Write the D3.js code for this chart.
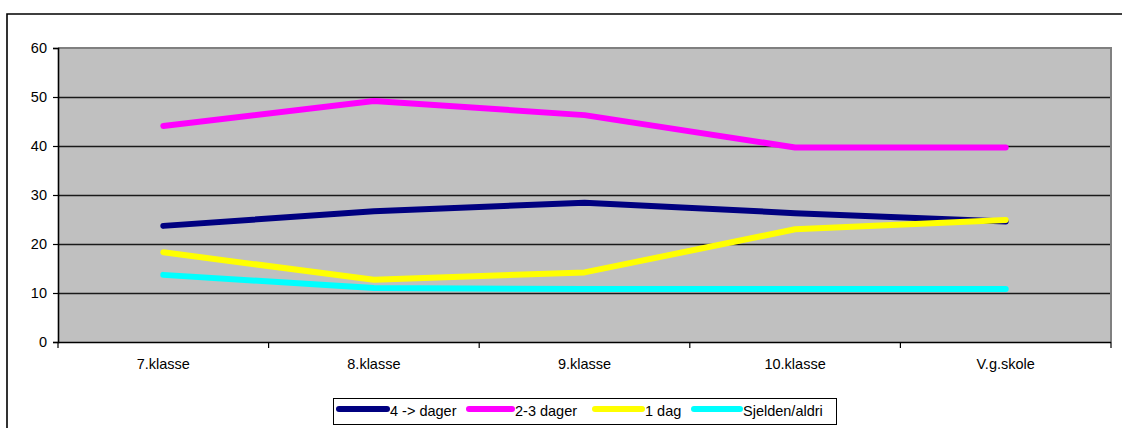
<!DOCTYPE html>
<html>
<head>
<meta charset="utf-8">
<script src="https://cdn.jsdelivr.net/npm/d3@7"></script>
<style>
html,body{margin:0;padding:0;background:#fff;}
svg{display:block;}
text{font-family:"Liberation Sans",Arial,sans-serif;font-size:14.5px;fill:#000;}
</style>
</head>
<body>
<svg id="chart" width="1122" height="428"></svg>
<script>
const categories = ["7.klasse","8.klasse","9.klasse","10.klasse","V.g.skole"];
const seriesNames = ["4 -> dager","2-3 dager","1 dag","Sjelden/aldri"];
const seriesColors = ["#000080","#ff00ff","#ffff00","#00ffff"];
const valsFour = [23.7, 26.7, 28.4, 26.3, 24.6];
const valsTwoThree = [44.1, 49.2, 46.3, 39.7, 39.7];
const valsOne = [18.3, 12.7, 14.2, 23.0, 24.9];
const valsRarely = [13.7, 11.0, 10.8, 10.8, 10.8];
const yTicks = [0,10,20,30,40,50,60];

const series = [valsFour, valsTwoThree, valsOne, valsRarely];

const svg = d3.select("#chart");
const L = 58, R = 1111, T = 48, B = 342;

// outer border
svg.append("path").attr("d", "M7,428V14H1122").attr("fill","none")
  .attr("stroke","#000").attr("stroke-width",1.6);

const x = d3.scaleBand().domain(categories).range([L, R]).padding(0);
const y = d3.scaleLinear().domain([0, 60]).range([B, T]);

// plot background
svg.append("rect").attr("x", L).attr("y", T).attr("width", R - L).attr("height", B - T)
  .attr("fill", "#c0c0c0");

// gridlines
svg.append("g").selectAll("line").data(yTicks.filter(d => d > 0 && d < 60)).join("line")
  .attr("x1", L).attr("x2", R).attr("y1", d => y(d) + 0.5).attr("y2", d => y(d) + 0.5)
  .attr("stroke", "#1a1a1a").attr("stroke-width", 1.3);

// top & right plot border (gray)
svg.append("path").attr("d", `M${L},${y(60)}H${R}V${B}`).attr("fill","none")
  .attr("stroke","#808080").attr("stroke-width",2);

// y axis
const yAxis = d3.axisLeft(y).tickValues(yTicks).tickSize(5).tickPadding(6).tickFormat(d3.format("d"));
const gy = svg.append("g").attr("transform", `translate(${L},0)`).call(yAxis);
gy.select(".domain").attr("stroke","#000").attr("stroke-width",1.6);
gy.selectAll(".tick line").attr("stroke","#000").attr("stroke-width",1.2);
gy.selectAll("text").attr("fill","#000");
gy.attr("font-size", null).attr("font-family", null);

// x axis
const boundaries = categories.map(c => x(c)).concat([R]);
svg.append("line").attr("x1", L).attr("x2", R).attr("y1", B + 0.5).attr("y2", B + 0.5)
  .attr("stroke","#000").attr("stroke-width",1.6);
svg.append("g").selectAll("line").data(boundaries).join("line")
  .attr("x1", d => d).attr("x2", d => d).attr("y1", B).attr("y2", B + 6)
  .attr("stroke","#000").attr("stroke-width",1.2);
svg.append("g").selectAll("text").data(categories).join("text")
  .attr("x", d => x(d) + x.bandwidth() / 2).attr("y", 369)
  .attr("text-anchor","middle").text(d => d);

// lines
const line = d3.line().x((d, i) => x(categories[i]) + x.bandwidth() / 2).y(d => y(d));
svg.append("g").selectAll("path").data(series).join("path")
  .attr("d", d => line(d)).attr("fill","none")
  .attr("stroke", (d, i) => seriesColors[i])
  .attr("stroke-width", 6).attr("stroke-linecap","round").attr("stroke-linejoin","round");

// legend
const lg = svg.append("g");
lg.append("rect").attr("x", 333.5).attr("y", 398.5).attr("width", 503).attr("height", 26)
  .attr("fill","#fff").attr("stroke","#000").attr("stroke-width",1);
const legendStarts = [336, 466, 592, 691];
const legendEnds = [390, 515, 645, 743];
seriesNames.forEach((name, i) => {
  lg.append("line").attr("x1", legendStarts[i] + 3).attr("x2", legendEnds[i] - 3)
    .attr("y1", 409).attr("y2", 409)
    .attr("stroke", seriesColors[i]).attr("stroke-width", 6).attr("stroke-linecap","round");
  lg.append("text").attr("x", legendEnds[i]).attr("y", 416).text(name);
});
</script>
</body>
</html>
